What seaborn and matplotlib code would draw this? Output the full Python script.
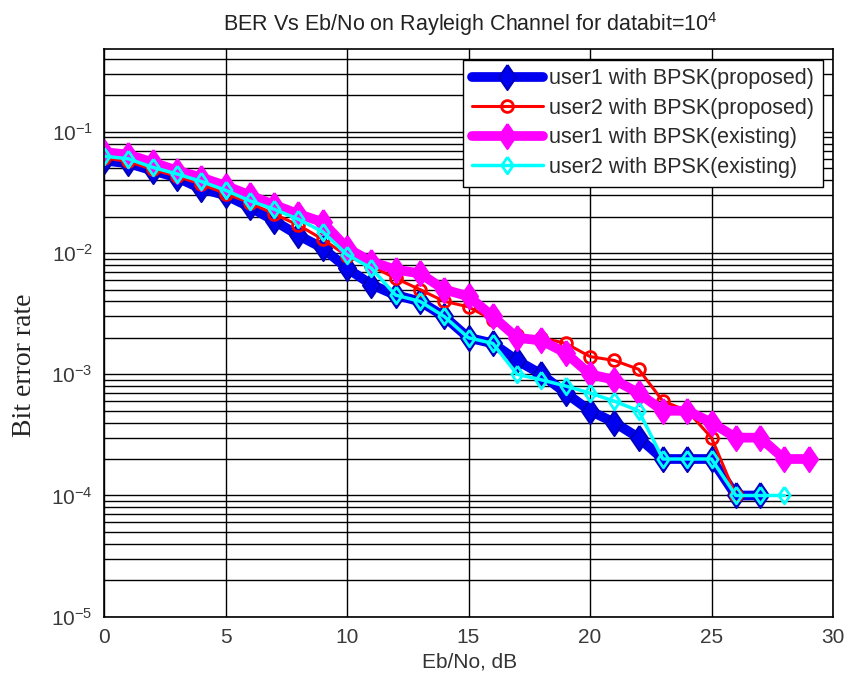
import numpy as np
import pandas as pd
import matplotlib
matplotlib.use("Agg")
import matplotlib.pyplot as plt
import seaborn as sns
from matplotlib.ticker import LogLocator, FixedLocator, LogFormatterMathtext, NullFormatter

# ---------------- data ----------------
ebno_u1p = list(range(0, 28))
ber_u1_proposed = [0.058, 0.055, 0.048, 0.042, 0.034, 0.030, 0.024, 0.0185, 0.014, 0.011,
                   0.0075, 0.0055, 0.0045, 0.004, 0.003, 0.002, 0.0018, 0.0013, 0.001, 0.0007,
                   0.0005, 0.0004, 0.0003, 0.0002, 0.0002, 0.0002, 0.0001, 0.0001]

ebno_u2p = list(range(0, 27))
ber_u2_proposed = [0.061, 0.057, 0.049, 0.043, 0.037, 0.031, 0.026, 0.021, 0.017, 0.013,
                   0.0095, 0.0078, 0.0062, 0.005, 0.004, 0.0036, 0.0028, 0.0021, 0.002, 0.0018,
                   0.0014, 0.0013, 0.0011, 0.0006, 0.0005, 0.0003, 0.0001]

ebno_u1e = list(range(0, 30))
ber_u1_existing = [0.068, 0.065, 0.056, 0.048, 0.042, 0.036, 0.030, 0.025, 0.021, 0.018,
                   0.011, 0.0085, 0.0073, 0.0068, 0.005, 0.0044, 0.003, 0.002, 0.0019, 0.0015,
                   0.001, 0.0009, 0.0007, 0.0005, 0.0005, 0.0004, 0.0003, 0.0003, 0.0002, 0.0002]

ebno_u2e = list(range(0, 29))
ber_u2_existing = [0.063, 0.060, 0.051, 0.045, 0.039, 0.033, 0.027, 0.023, 0.019, 0.015,
                   0.0097, 0.0075, 0.0045, 0.004, 0.003, 0.002, 0.0018, 0.001, 0.0009, 0.0008,
                   0.0007, 0.0006, 0.0005, 0.0002, 0.0002, 0.0002, 0.0001, 0.0001, 0.0001]

labels = ["user1 with BPSK(proposed)", "user2 with BPSK(proposed)",
          "user1 with BPSK(existing)", "user2 with BPSK(existing)"]
x_ticks = [0, 5, 10, 15, 20, 25, 30]

# ---------------- style ----------------
sns.set_style("white")
plt.rcParams['font.family'] = ['Liberation Sans', 'DejaVu Sans']
plt.rcParams['mathtext.default'] = 'regular'

fig = plt.figure(figsize=(8.49, 6.78), dpi=100)
ax = fig.add_axes([104/849, 1 - 616.7/678, 729/849, 567.4/678])
ax.set_yscale('log')

# diamond a bit taller than wide (as in the reference)
diamond = [(0, 1), (0.68, 0), (0, -1), (-0.68, 0), (0, 1)]

series = [
    (ebno_u1p, ber_u1_proposed, dict(color='#0000F0', lw=7, marker=diamond, ms=18,
                                     mfc='#0000F0', mec='#0000C0', mew=1.5)),
    (ebno_u2p, ber_u2_proposed, dict(color='#FF0000', lw=2.2, marker='o', ms=8.5,
                                     mfc='none', mec='#FF0000', mew=2)),
    (ebno_u1e, ber_u1_existing, dict(color='#FF00FF', lw=7, marker=diamond, ms=18,
                                     mfc='#FF00FF', mec='#FF00FF', mew=1.5)),
    (ebno_u2e, ber_u2_existing, dict(color='#00FFFF', lw=2.5, marker=diamond, ms=12,
                                     mfc='none', mec='#00FFFF', mew=2)),
]
for (xs, ys, kw), lab in zip(series, labels):
    df = pd.DataFrame({"x": xs, "y": ys})
    sns.lineplot(data=df, x="x", y="y", ax=ax, label=lab, **kw)

ax.set_xlim(0, 30)
ax.set_ylim(1e-5, 0.48)
ax.xaxis.set_major_locator(FixedLocator(x_ticks))
ax.yaxis.set_major_locator(LogLocator(base=10, numticks=10))
ax.yaxis.set_minor_locator(LogLocator(base=10, subs=np.arange(2, 10), numticks=20))
ax.yaxis.set_major_formatter(LogFormatterMathtext())
ax.yaxis.set_minor_formatter(NullFormatter())

ax.set_axisbelow(True)
ax.grid(True, which='major', axis='x', color='black', lw=1.0)
ax.grid(True, which='both', axis='y', color='black', lw=1.0)
for s in ax.spines.values():
    s.set_color('black')
    s.set_linewidth(1.2)
ax.tick_params(axis='both', which='both', direction='in', length=0,
               labelsize=15, labelcolor='#3a3a3a', pad=8)
ax.set_xlabel("")
ax.set_ylabel("")

fig.text(470/849, 1 - 24/678, r"BER Vs Eb/No on Rayleigh Channel for databit=$\mathregular{10^4}$",
         ha='center', va='center', fontsize=15.5, color='#222222')
fig.text(470/849, 1 - 662/678, "Eb/No, dB", ha='center', va='center', fontsize=15, color='#333333')
fig.text(25/849, 1 - 365/678, "Bit error rate", rotation=90, ha='center', va='center',
         fontsize=20, family=['Liberation Serif', 'DejaVu Serif'], color='#222222')

leg = ax.legend(loc='upper right', bbox_to_anchor=(0.986, 0.982), fontsize=15.5,
                frameon=True, fancybox=False, edgecolor='black', framealpha=1,
                handlelength=3.3, handletextpad=0.3, labelspacing=0.4,
                borderpad=0.4, borderaxespad=0, numpoints=1)
leg.get_frame().set_linewidth(1.0)
for t in leg.get_texts():
    t.set_color('#2a2a2a')

fig.savefig("out.png", dpi=100)
